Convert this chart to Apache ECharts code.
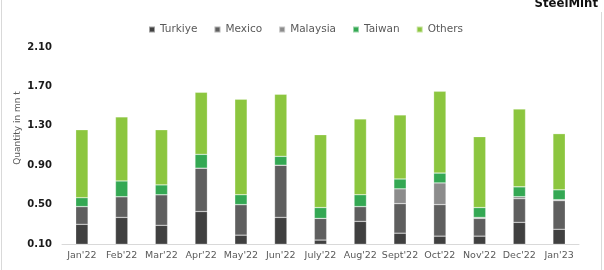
<!DOCTYPE html>
<html>
<head>
<meta charset="utf-8">
<script src="https://cdn.jsdelivr.net/npm/echarts@6/dist/echarts.min.js"></script>
<style>html,body{margin:0;padding:0;background:#fff}#c{width:604px;height:270px}</style>
</head>
<body>
<div id="c"></div>
<script>
var categories = ["Jan'22","Feb'22","Mar'22","Apr'22","May'22","Jun'22","July'22","Aug'22","Sept'22","Oct'22","Nov'22","Dec'22","Jan'23"];
var turkiye  = [0.30,0.37,0.29,0.43,0.19,0.37,0.14,0.33,0.21,0.18,0.18,0.32,0.25];
var mexico   = [0.18,0.21,0.31,0.44,0.31,0.53,0.22,0.15,0.30,0.32,0.18,0.24,0.29];
var malaysia = [0.00,0.00,0.00,0.00,0.00,0.00,0.00,0.00,0.15,0.22,0.01,0.02,0.01];
var taiwan   = [0.09,0.16,0.10,0.14,0.10,0.09,0.11,0.12,0.10,0.10,0.10,0.10,0.10];
var others   = [0.69,0.65,0.56,0.63,0.97,0.63,0.74,0.77,0.65,0.83,0.72,0.79,0.57];
var seriesNames = ["Turkiye","Mexico","Malaysia","Taiwan","Others"];
var colors = ["#404040","#5f5f5f","#8c8c8c","#34a853","#8cc63f"];

var chart = echarts.init(document.getElementById('c'));
var data = [turkiye, mexico, malaysia, taiwan, others];
var series = seriesNames.map(function(n,i){
  return {name:n, type:'bar', stack:'t', data:data[i], barWidth:'31%',
    itemStyle:{color:colors[i], borderColor:'rgba(255,255,255,0.5)', borderWidth:0.5}};
});
chart.setOption({
  animation:false,
  color:colors,
  grid:{left:62, right:25, top:47, bottom:26},
  legend:{top:19, left:143, itemWidth:6, itemHeight:6, itemGap:16, icon:'rect',
    textStyle:{color:'#595959', fontSize:10.5, fontFamily:'DejaVu Sans'}, data:seriesNames},
  xAxis:{type:'category', data:categories,
    axisLine:{lineStyle:{color:'#d9d9d9'}}, axisTick:{show:false},
    axisLabel:{color:'#595959', fontSize:9.5, fontFamily:'DejaVu Sans', margin:7, interval:0}},
  yAxis:{type:'value', min:0.1, max:2.1, interval:0.4,
    axisLine:{show:false}, axisTick:{show:false}, splitLine:{show:false},
    axisLabel:{color:'#1a1a1a', fontWeight:'bold', fontSize:10, fontFamily:'DejaVu Sans', margin:10,
      formatter:function(v){return v.toFixed(2);}}},
  graphic:[
    {type:'text', x:18, y:128, rotation:Math.PI/2,
     style:{text:'Quantity in mn t', fill:'#595959', font:'9px DejaVu Sans', align:'center', verticalAlign:'middle'}},
    {type:'text', x:598, y:-3,
     style:{text:'SteelMint', fill:'#111', font:'bold 13px "DejaVu Sans Condensed"', align:'right', verticalAlign:'top'}},
    {type:'line', shape:{x1:1.5,y1:0,x2:1.5,y2:270}, style:{stroke:'#d9d9d9', lineWidth:1}},
    {type:'line', shape:{x1:601.5,y1:12,x2:601.5,y2:270}, style:{stroke:'#d9d9d9', lineWidth:1}}
  ],
  series:series
});
</script>
</body>
</html>
